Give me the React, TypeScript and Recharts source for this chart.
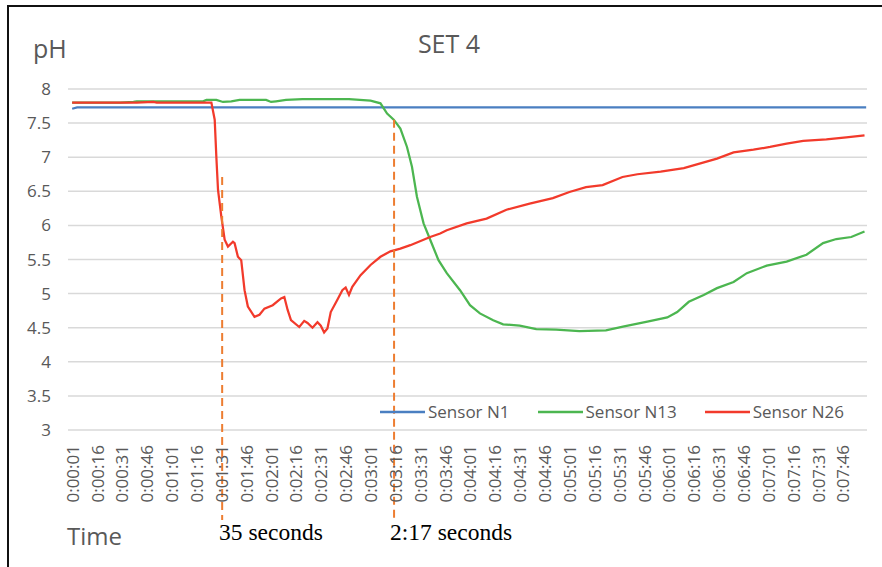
import React from "react"
import {
  LineChart,
  Line,
  CartesianGrid,
  XAxis,
  YAxis,
  ReferenceLine,
} from "recharts"

// time (s) / pH readings
const SENSOR_N1: [number, number][] = [
  [1, 7.71], [4, 7.73], [120, 7.73], [240, 7.73], [360, 7.73], [480, 7.73],
]

const SENSOR_N13: [number, number][] = [
  [1, 7.8], [30, 7.8], [38, 7.81], [40, 7.82], [60, 7.82], [80, 7.82],
  [82, 7.84], [88, 7.84], [92, 7.81], [97, 7.82], [102, 7.84], [118, 7.84],
  [121, 7.81], [124, 7.82], [130, 7.84], [140, 7.85], [168, 7.85], [181, 7.83],
  [187, 7.79], [191, 7.64], [195, 7.55], [199, 7.42], [203, 7.15], [206, 6.86],
  [209, 6.42], [213, 6.03], [217, 5.79], [222, 5.49], [227, 5.3], [235, 5.05],
  [241, 4.83], [247, 4.71], [255, 4.61], [261, 4.55], [271, 4.53], [281, 4.48],
  [293, 4.47], [307, 4.45], [323, 4.46], [334, 4.52], [348, 4.59], [360, 4.65],
  [366, 4.73], [373, 4.88], [382, 4.98], [390, 5.08], [400, 5.17], [408, 5.3],
  [420, 5.41], [432, 5.47], [444, 5.57], [454, 5.74], [462, 5.8], [471, 5.83],
  [479, 5.91],
]

const SENSOR_N26: [number, number][] = [
  [1, 7.8], [20, 7.8], [40, 7.8], [50, 7.81], [52, 7.8], [60, 7.8], [85, 7.8],
  [87, 7.55], [88, 7.0], [89, 6.52], [91, 6.13], [93, 5.79], [95, 5.69],
  [98, 5.76], [99, 5.74], [101, 5.54], [103, 5.49], [105, 5.05], [107, 4.81],
  [111, 4.66], [114, 4.69], [117, 4.78], [122, 4.83], [127, 4.93], [129, 4.95],
  [131, 4.76], [133, 4.61], [138, 4.51], [141, 4.6], [143, 4.57], [146, 4.5],
  [149, 4.58], [151, 4.53], [153, 4.43], [155, 4.49], [157, 4.73], [161, 4.91],
  [164, 5.05], [166, 5.09], [168, 4.98], [170, 5.1], [175, 5.27], [181, 5.42],
  [187, 5.54], [193, 5.62], [199, 5.66], [205, 5.71], [213, 5.79], [217, 5.83],
  [223, 5.88], [227, 5.93], [239, 6.03], [251, 6.1], [263, 6.23], [277, 6.32],
  [291, 6.4], [301, 6.49], [311, 6.56], [321, 6.59], [333, 6.71], [342, 6.75],
  [356, 6.79], [370, 6.84], [380, 6.91], [390, 6.98], [400, 7.07], [412, 7.11],
  [422, 7.15], [432, 7.2], [442, 7.24], [456, 7.26], [468, 7.29], [479, 7.32],
]

const TIME_LABELS = [
  "0:00:01", "0:00:16", "0:00:31", "0:00:46", "0:01:01", "0:01:16", "0:01:31",
  "0:01:46", "0:02:01", "0:02:16", "0:02:31", "0:02:46", "0:03:01", "0:03:16",
  "0:03:31", "0:03:46", "0:04:01", "0:04:16", "0:04:31", "0:04:46", "0:05:01",
  "0:05:16", "0:05:31", "0:05:46", "0:06:01", "0:06:16", "0:06:31", "0:06:46",
  "0:07:01", "0:07:16", "0:07:31", "0:07:46",
]

const PH_TICKS = [3, 3.5, 4, 4.5, 5, 5.5, 6, 6.5, 7, 7.5, 8]

// dashed markers: time, top of the dash (pH), note underneath
const MARK_TIMES = [91.5, 195.2]
const MARK_TOPS = [6.71, 7.55]
const MARK_NOTES = ["35 seconds", "2:17 seconds"]

const SERIES = [
  { name: "Sensor N1", points: SENSOR_N1, color: "#4a7fc1" },
  { name: "Sensor N13", points: SENSOR_N13, color: "#4cb650" },
  { name: "Sensor N26", points: SENSOR_N26, color: "#f23a2b" },
]

const toSeconds = (s: string) => {
  const [h, m, sec] = s.split(":").map(Number)
  return h * 3600 + m * 60 + sec
}

const TEXT = "#595959"
const FONT = "'Open Sans', sans-serif"

function TimeTick({ x, y, payload }: any) {
  const label = TIME_LABELS[TIME_LABELS.map(toSeconds).indexOf(payload.value)]
  return (
    <text
      x={x}
      y={y + 13}
      transform={`rotate(-90 ${x} ${y + 13})`}
      textAnchor="end"
      dominantBaseline="central"
      fill={TEXT}
      fontSize={17}
      fontFamily={FONT}
    >
      {label}
    </text>
  )
}

export default function App() {
  return (
    <div style={{ position: "absolute", left: 0, top: 0, width: 882, height: 567, background: "#fff", overflow: "hidden" }}>
      <div style={{ position: "absolute", left: 7, top: 5, width: 900, height: 560, borderTop: "2px solid #111", borderLeft: "2px solid #111", borderBottom: "1px solid #e3e3e3" }} />
      <LineChart
        width={882}
        height={567}
        margin={{ top: 89, right: 15, bottom: 0, left: 0 }}
        style={{ position: "absolute", left: 0, top: 0 }}
      >
        <CartesianGrid vertical={false} stroke="#d9d9d9" strokeWidth={1.5} />
        <XAxis
          type="number"
          dataKey="t"
          domain={[-1.5, 480.5]}
          ticks={TIME_LABELS.map(toSeconds)}
          interval={0}
          tick={<TimeTick />}
          tickLine={false}
          axisLine={false}
          tickSize={0}
          height={137}
          allowDataOverflow
        />
        <YAxis
          type="number"
          domain={[3, 8]}
          ticks={PH_TICKS}
          interval={0}
          width={68}
          tickLine={false}
          axisLine={false}
          tickSize={0}
          tickMargin={17}
          tick={{ fill: TEXT, fontSize: 17, fontFamily: FONT }}
        />
        {SERIES.map((s) => (
          <Line
            key={s.name}
            name={s.name}
            data={s.points.map(([t, ph]) => ({ t, ph }))}
            dataKey="ph"
            type="linear"
            stroke={s.color}
            strokeWidth={2.25}
            dot={false}
            activeDot={false}
            isAnimationActive={false}
          />
        ))}
        {MARK_TIMES.map((t, i) => (
          <ReferenceLine
            key={t}
            segment={[{ x: t, y: MARK_TOPS[i] }, { x: t, y: 1.68 }]}
            stroke="#ed7d31"
            strokeWidth={2}
            strokeDasharray="8 5"
            ifOverflow="visible"
          />
        ))}
      </LineChart>
      <div style={{ position: "absolute", left: 380, top: 401, display: "flex", alignItems: "center", whiteSpace: "nowrap", fontFamily: FONT, fontSize: 17, color: TEXT, lineHeight: "22px" }}>
        {SERIES.map((s) => (
          <div key={s.name} style={{ display: "flex", alignItems: "center", marginRight: 28 }}>
            <svg width={45} height={4} style={{ marginRight: 3 }}>
              <line x1={0} y1={2} x2={45} y2={2} stroke={s.color} strokeWidth={2.5} />
            </svg>
            <span>{s.name}</span>
          </div>
        ))}
      </div>
      <svg width={882} height={567} style={{ position: "absolute", left: 0, top: 0, pointerEvents: "none" }}>
        <text x={33} y={58} fill={TEXT} fontSize={25} fontFamily={FONT}>pH</text>
        <text x={449} y={53} fill={TEXT} fontSize={25} fontFamily={FONT} textAnchor="middle">SET 4</text>
        <text x={67} y={545} fill={TEXT} fontSize={24} fontFamily={FONT}>Time</text>
        {MARK_NOTES.map((note, i) => (
          <text key={note} x={i === 0 ? 219 : 390} y={540} fill="#000" fontSize={23.5} fontFamily="'Liberation Serif', serif">
            {note}
          </text>
        ))}
      </svg>
    </div>
  )
}
